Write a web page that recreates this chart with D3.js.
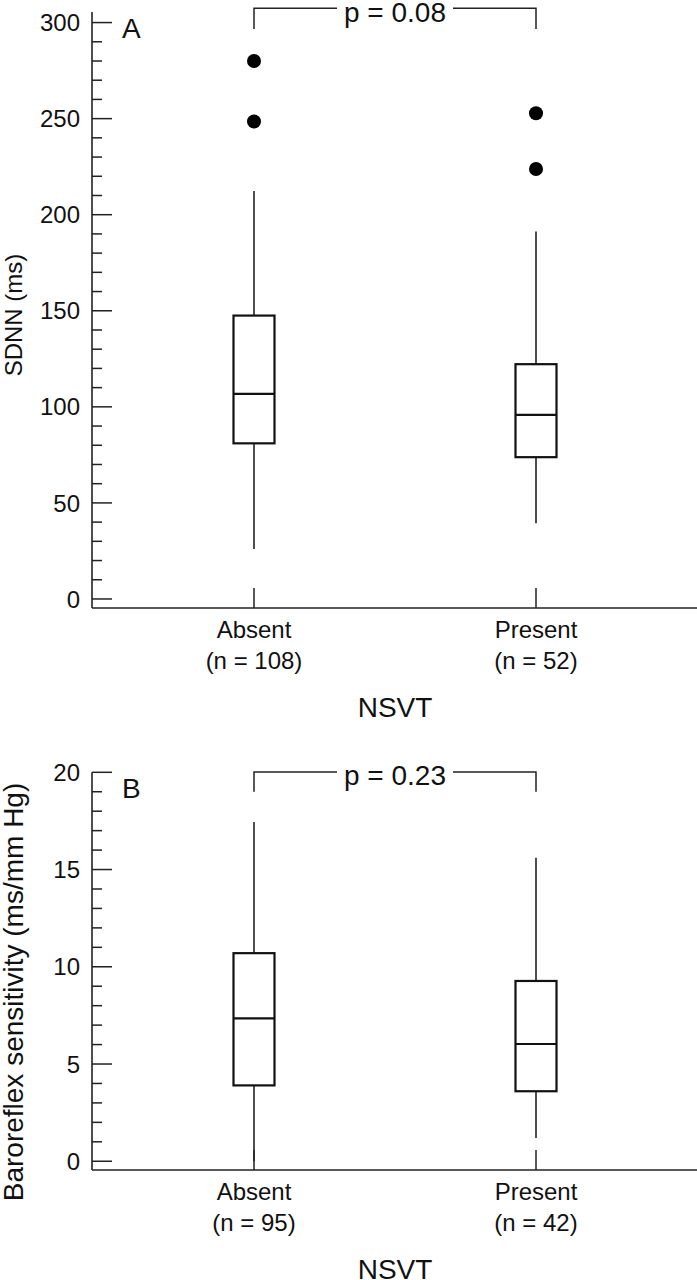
<!DOCTYPE html>
<html>
<head>
<meta charset="utf-8">
<script src="https://cdn.jsdelivr.net/npm/d3@7"></script>
<style>
  html, body { margin: 0; padding: 0; background: #fff; }
  svg { display: block; }
  text { font-family: "Liberation Sans", Arial, Helvetica, sans-serif; fill: #111; }
</style>
</head>
<body>
<svg id="chart" width="697" height="1280"></svg>
<script>
// ---- Data ----
const categories = ["Absent", "Present"];

// Panel A: SDNN (ms)
const nLabelsA = ["(n = 108)", "(n = 52)"];
const sdnnLow = [26, 39.4];
const sdnnQ1 = [81, 73.8];
const sdnnMedian = [106.7, 95.8];
const sdnnQ3 = [147.5, 122.2];
const sdnnHigh = [212.4, 191.2];
const sdnnOutliers = [[248.5, 280], [223.8, 252.8]];
const sdnnMajorTicks = [0, 50, 100, 150, 200, 250, 300];
const sdnnMinorTicks = d3.range(0, 301, 10);
const pA = "p = 0.08";

// Panel B: Baroreflex sensitivity (ms/mm Hg)
const nLabelsB = ["(n = 95)", "(n = 42)"];
const brsLow = [0, 1.2];
const brsQ1 = [3.9, 3.6];
const brsMedian = [7.35, 6.03];
const brsQ3 = [10.7, 9.27];
const brsHigh = [17.45, 15.6];
const brsOutliers = [[], []];
const brsMajorTicks = [0, 5, 10, 15, 20];
const brsMinorTicks = d3.range(0, 21, 1);
const pB = "p = 0.23";

const svg = d3.select("#chart");
const x = d3.scalePoint().domain(categories).range([254, 536]);
const axisX = 92;
const boxW = 41;

function drawPanel(cfg) {
  const g = svg.append("g");
  const y = cfg.y;
  const [yBottom, yTop] = y.range();
  const rows = categories.map((c, i) => ({
    c, low: cfg.low[i], q1: cfg.q1[i], med: cfg.med[i], q3: cfg.q3[i], high: cfg.high[i], out: cfg.out[i]
  }));

  // y axis line
  g.append("line").attr("x1", axisX).attr("x2", axisX)
    .attr("y1", y(cfg.axisTop)).attr("y2", yBottom)
    .attr("stroke", "#222").attr("stroke-width", 1.6);
  // x axis line
  g.append("line").attr("x1", axisX).attr("x2", 697)
    .attr("y1", yBottom).attr("y2", yBottom)
    .attr("stroke", "#222").attr("stroke-width", 1.6);

  // minor ticks
  g.selectAll(".minor").data(cfg.minor.filter(v => !cfg.major.includes(v))).enter()
    .append("line").attr("x1", axisX).attr("x2", axisX + 10)
    .attr("y1", d => y(d)).attr("y2", d => y(d))
    .attr("stroke", "#222").attr("stroke-width", 1.5);
  // major ticks
  g.selectAll(".major").data(cfg.major).enter()
    .append("line").attr("x1", axisX).attr("x2", axisX + 20)
    .attr("y1", d => y(d)).attr("y2", d => y(d))
    .attr("stroke", "#222").attr("stroke-width", 1.5);
  g.selectAll(".tlab").data(cfg.major).enter()
    .append("text").attr("x", 80).attr("y", d => y(d)).attr("dy", "0.36em")
    .attr("text-anchor", "end").attr("font-size", 24).text(d => d);

  // category ticks
  g.selectAll(".ctick").data(categories).enter()
    .append("line").attr("x1", d => x(d)).attr("x2", d => x(d))
    .attr("y1", yBottom - 20).attr("y2", yBottom)
    .attr("stroke", "#222").attr("stroke-width", 1.5);
  g.selectAll(".clab").data(categories).enter()
    .append("text").attr("x", d => x(d)).attr("y", yBottom + 30)
    .attr("text-anchor", "middle").attr("font-size", 24).text(d => d);
  g.selectAll(".nlab").data(cfg.nLabels).enter()
    .append("text").attr("x", (d, i) => x(categories[i])).attr("y", yBottom + 61)
    .attr("text-anchor", "middle").attr("font-size", 24).text(d => d);
  const midX = (x(categories[0]) + x(categories[1])) / 2;
  g.append("text").attr("x", midX).attr("y", yBottom + 109)
    .attr("text-anchor", "middle").attr("font-size", 28).text("NSVT");

  // y title
  g.append("text")
    .attr("transform", `translate(${cfg.titleX},${cfg.titleY}) rotate(-90)`)
    .attr("text-anchor", "middle").attr("font-size", cfg.titleSize).text(cfg.title);

  // panel letter
  g.append("text").attr("x", 122).attr("y", cfg.letterY)
    .attr("font-size", 28).text(cfg.letter);

  // whiskers
  g.selectAll(".wu").data(rows).enter().append("line")
    .attr("x1", d => x(d.c)).attr("x2", d => x(d.c))
    .attr("y1", d => y(d.q3)).attr("y2", d => y(d.high))
    .attr("stroke", "#222").attr("stroke-width", 1.6);
  g.selectAll(".wl").data(rows).enter().append("line")
    .attr("x1", d => x(d.c)).attr("x2", d => x(d.c))
    .attr("y1", d => y(d.q1)).attr("y2", d => y(d.low))
    .attr("stroke", "#222").attr("stroke-width", 1.6);
  // boxes
  g.selectAll(".box").data(rows).enter().append("rect")
    .attr("x", d => x(d.c) - boxW / 2).attr("width", boxW)
    .attr("y", d => y(d.q3)).attr("height", d => y(d.q1) - y(d.q3))
    .attr("fill", "#fff").attr("stroke", "#111").attr("stroke-width", 2.2);
  g.selectAll(".med").data(rows).enter().append("line")
    .attr("x1", d => x(d.c) - boxW / 2).attr("x2", d => x(d.c) + boxW / 2)
    .attr("y1", d => y(d.med)).attr("y2", d => y(d.med))
    .attr("stroke", "#111").attr("stroke-width", 2.2);
  // outliers
  rows.forEach(r => {
    g.selectAll(null).data(r.out).enter().append("circle")
      .attr("cx", x(r.c)).attr("cy", d => y(d)).attr("r", 7).attr("fill", "#000");
  });

  // p bracket
  const x0 = x(categories[0]), x1 = x(categories[1]);
  const by = y(cfg.bracketTop), bd = y(cfg.bracketDrop);
  const gapHalf = 58;
  g.append("path")
    .attr("d", `M${x0},${bd}V${by}H${midX - gapHalf}M${midX + gapHalf},${by}H${x1}V${bd}`)
    .attr("fill", "none").attr("stroke", "#222").attr("stroke-width", 1.5);
  g.append("text").attr("x", midX).attr("y", by + 13.5)
    .attr("text-anchor", "middle").attr("font-size", 28).text(cfg.p);
}

drawPanel({
  y: d3.scaleLinear().domain([-4.7, 305.5]).range([608, 12]),
  axisTop: 305.5,
  low: sdnnLow, q1: sdnnQ1, med: sdnnMedian, q3: sdnnQ3, high: sdnnHigh, out: sdnnOutliers,
  major: sdnnMajorTicks, minor: sdnnMinorTicks, nLabels: nLabelsA,
  title: "SDNN (ms)", titleX: 22, titleY: 315, titleSize: 24,
  letter: "A", letterY: 38, p: pA, bracketTop: 307.5, bracketDrop: 296.7
});

drawPanel({
  y: d3.scaleLinear().domain([-0.45, 20]).range([1170, 772.3]),
  axisTop: 20,
  low: brsLow, q1: brsQ1, med: brsMedian, q3: brsQ3, high: brsHigh, out: brsOutliers,
  major: brsMajorTicks, minor: brsMinorTicks, nLabels: nLabelsB,
  title: "Baroreflex sensitivity (ms/mm Hg)", titleX: 23, titleY: 992, titleSize: 28,
  letter: "B", letterY: 798, p: pB, bracketTop: 20.02, bracketDrop: 19.0
});
</script>
</body>
</html>
